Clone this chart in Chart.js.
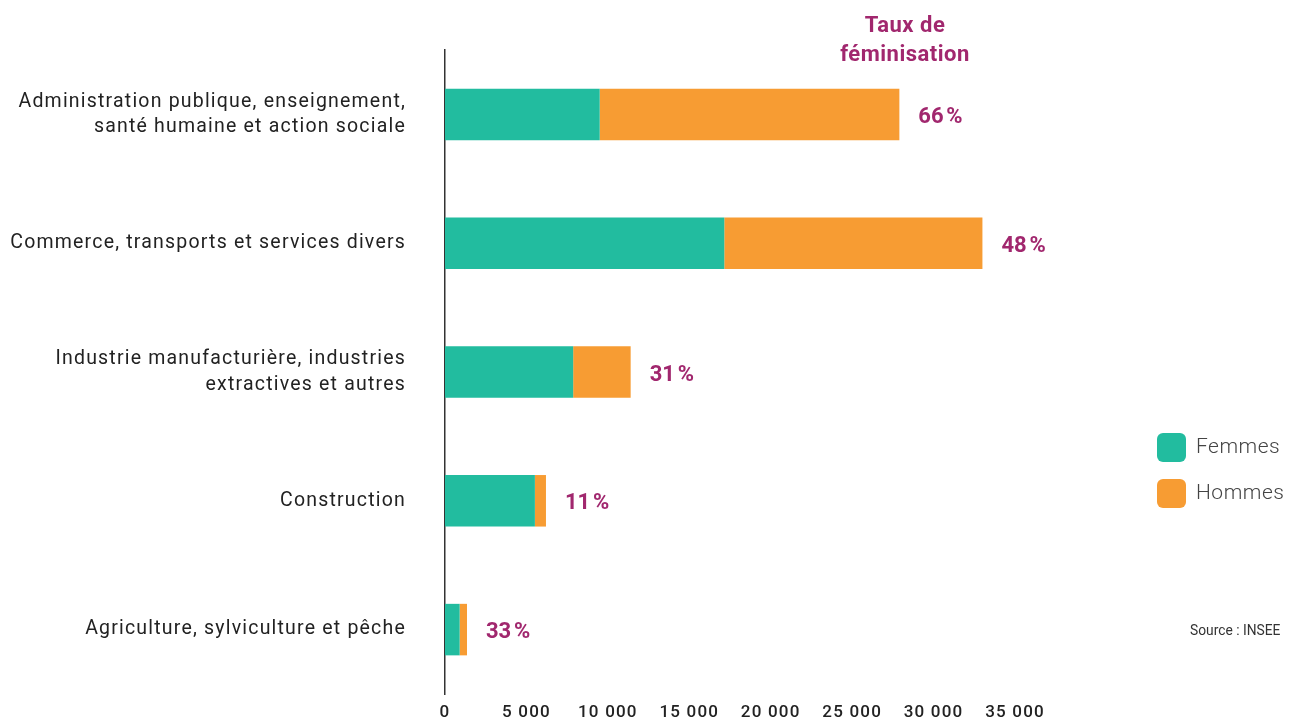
<!DOCTYPE html>
<html lang="fr">
<head>
<meta charset="utf-8">
<title>Emploi par secteur et taux de féminisation</title>
<script src="https://cdn.jsdelivr.net/npm/chart.js@4.4.1/dist/chart.umd.min.js"></script>
<style>
    html, body { margin: 0; padding: 0; background: #fff; }
    #wrap { width: 1309px; height: 720px; position: relative; }
</style>
</head>
<body>
<div id="wrap"><canvas id="chart"></canvas></div>
<script>
// Secteurs (libellés sur plusieurs lignes)
const secteurs = [
    ["Administration publique, enseignement,", "santé humaine et action sociale"],
    "Commerce, transports et services divers",
    ["Industrie manufacturière, industries", "extractives et autres"],
    "Construction",
    "Agriculture, sylviculture et pêche"
];
const femmes = [9500, 17150, 7870, 5520, 900];
const hommes = [18400, 15850, 3530, 680, 450];
const tauxFeminisation = [66, 48, 31, 11, 33];
const ticksX = [0, 5000, 10000, 15000, 20000, 25000, 30000, 35000];

const COLORS = {
    femmes: "#22bc9f",
    hommes: "#f79c33",
    taux: "#a1276e",
    text: "#222222",
    legend: "#444444"
};
const FONT = "Roboto, 'DejaVu Sans', sans-serif";

const fmt = v => String(v).replace(/\B(?=(\d{3})+(?!\d))/g, "\u00a0");

// Un peu d'interlettrage sur tout le texte du graphique
const tracking = {
    id: "tracking",
    beforeDraw(chart) { chart.ctx.letterSpacing = "1.2px"; },
    afterDraw(chart) { chart.ctx.letterSpacing = "0px"; }
};

// Taux, titre, légende et source dessinés sur le canvas
const annotations = {
    id: "annotations",
    afterDatasetsDraw(chart) {
        const ctx = chart.ctx;
        const meta = chart.getDatasetMeta(1);
        ctx.save();
        ctx.letterSpacing = "0.5px";
        ctx.fillStyle = COLORS.taux;
        ctx.font = "bold 22px " + FONT;
        ctx.textAlign = "left";
        ctx.textBaseline = "middle";
        meta.data.forEach((bar, i) => {
            ctx.fillText(tauxFeminisation[i] + "\u202f%", bar.x + 19, bar.y + 3);
        });

        ctx.textAlign = "center";
        ctx.fillText("Taux de", 905, 26);
        ctx.fillText("féminisation", 905, 55);

        // Légende
        chart.data.datasets.forEach((ds, i) => {
            const y = 433 + i * 46;
            ctx.fillStyle = ds.backgroundColor;
            ctx.beginPath();
            ctx.roundRect(1157, y, 29, 29, 6);
            ctx.fill();
            ctx.fillStyle = COLORS.legend;
            ctx.font = "300 21px " + FONT;
            ctx.textAlign = "left";
            ctx.fillText(ds.label, 1196, y + 15);
        });

        ctx.letterSpacing = "0px";
        ctx.fillStyle = "#333";
        ctx.font = "13.8px " + FONT;
        ctx.fillText("Source : INSEE", 1190, 632);
        ctx.restore();
    }
};

new Chart(document.getElementById("chart"), {
    type: "bar",
    data: {
        labels: secteurs,
        datasets: [
            { label: "Femmes", data: femmes, backgroundColor: COLORS.femmes },
            { label: "Hommes", data: hommes, backgroundColor: COLORS.hommes }
        ]
    },
    options: {
        indexAxis: "y",
        responsive: true,
        maintainAspectRatio: false,
        animation: false,
        layout: { padding: { top: 50, right: 294, bottom: 0, left: 0 } },
        datasets: { bar: { categoryPercentage: 1, barPercentage: 0.4 } },
        plugins: { legend: { display: false }, tooltip: { enabled: false } },
        scales: {
            x: {
                stacked: true,
                min: 0,
                max: 35000,
                afterBuildTicks: scale => { scale.ticks = ticksX.map(v => ({ value: v })); },
                afterFit: scale => { scale.height = 26; },
                grid: { display: false, drawTicks: false },
                border: { display: false },
                ticks: {
                    padding: 9,
                    color: COLORS.text,
                    font: { family: FONT, size: 17, weight: "500" },
                    maxRotation: 0,
                    callback: v => fmt(v)
                }
            },
            y: {
                stacked: true,
                afterFit: scale => {
                    // largeur fixe, et pas de marge verticale due aux libellés
                    scale.width = 445;
                    scale.paddingTop = 0;
                    scale.paddingBottom = 0;
                },
                grid: { display: false, drawTicks: false },
                border: { display: true, color: "#333", width: 1.5 },
                ticks: {
                    padding: 39,
                    color: COLORS.text,
                    font: { family: FONT, size: 19.5, lineHeight: 1.3 }
                }
            }
        }
    },
    plugins: [tracking, annotations]
});
</script>
</body>
</html>
